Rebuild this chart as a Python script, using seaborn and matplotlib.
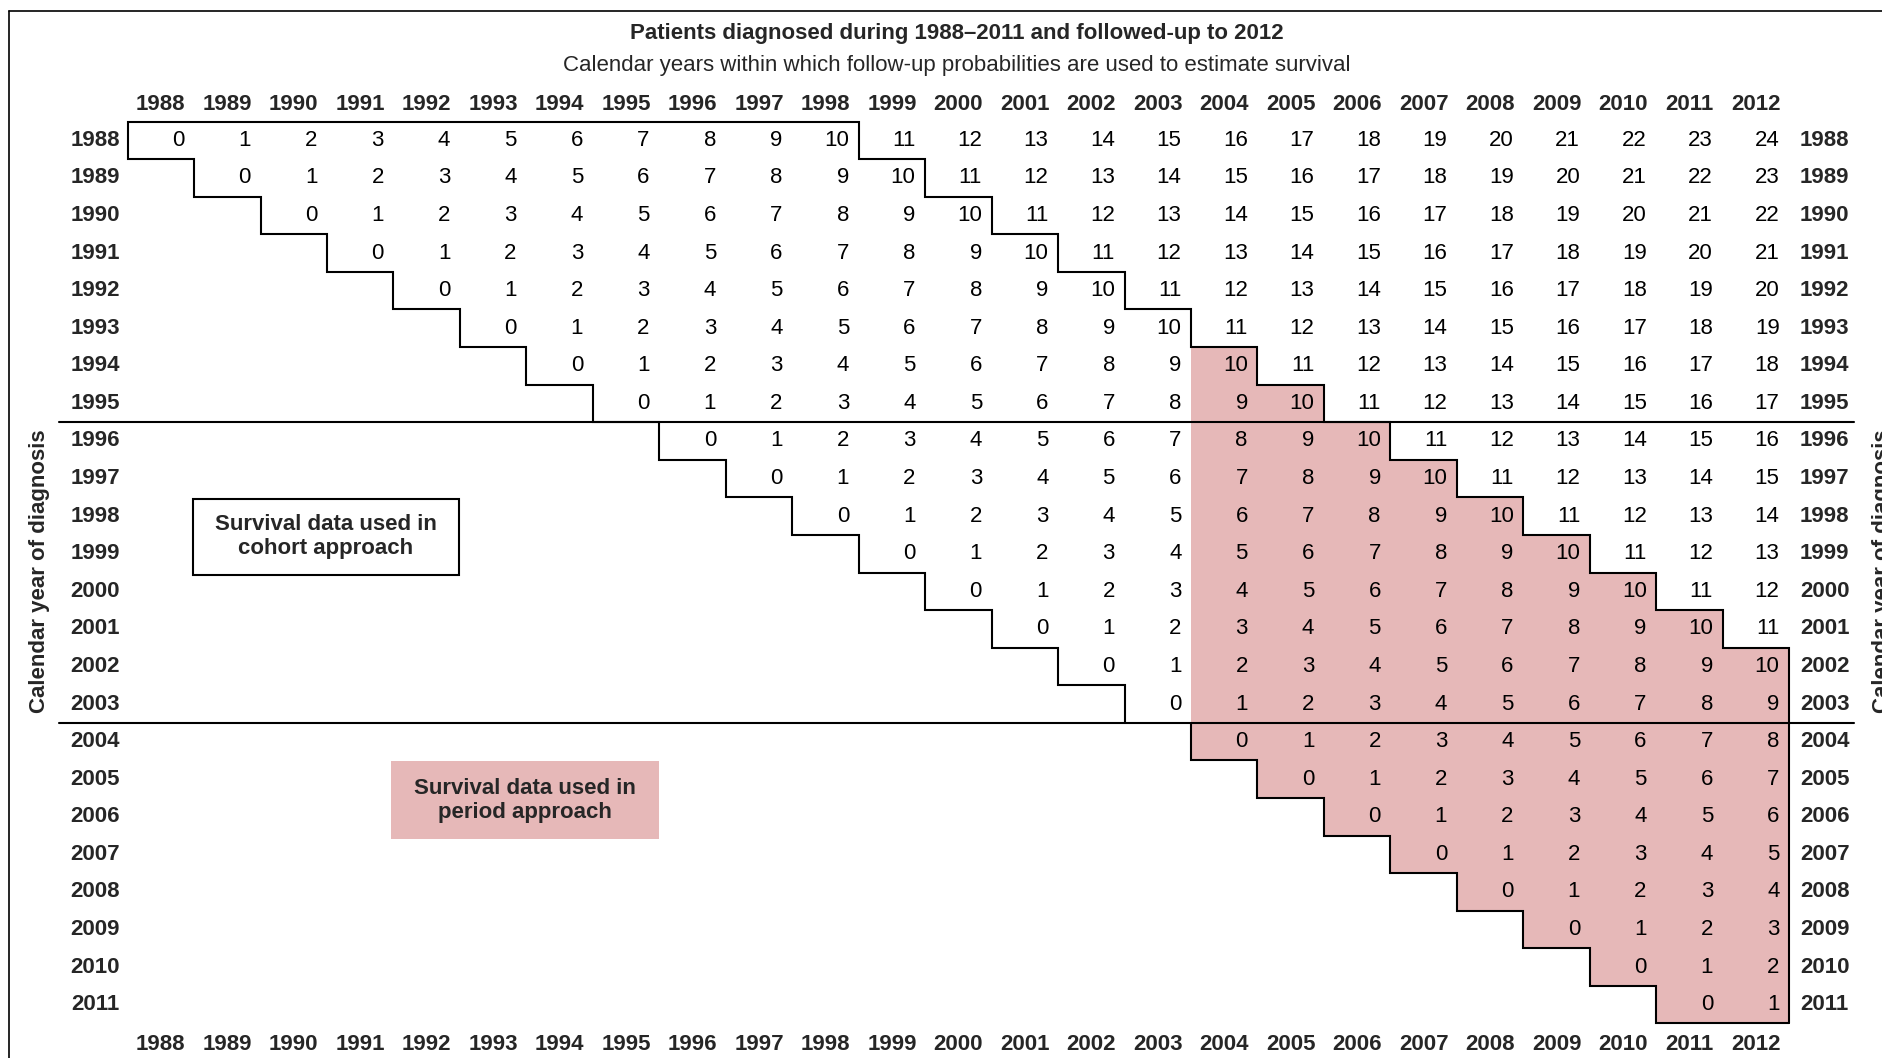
import numpy as np
import pandas as pd
import matplotlib
matplotlib.use("Agg")
import matplotlib.pyplot as plt
from matplotlib.colors import ListedColormap
from matplotlib.lines import Line2D
from matplotlib.patches import Rectangle
import seaborn as sns

# data
diag_years     = list(range(1988, 2012))   # rows: calendar year of diagnosis
followup_years = list(range(1988, 2013))   # columns: calendar year of follow-up
cohort_window  = 10                         # years of follow-up in the cohort approach
period_start   = 2004                       # first year of the period window
split_year     = 1996                       # extra separator line above this row

TITLE    = "Patients diagnosed during 1988\u20132011 and followed-up to 2012"
SUBTITLE = "Calendar years within which follow-up probabilities are used to estimate survival"
YLABEL   = "Calendar year of diagnosis"
PINK     = "#E6B8B8"
FS = 16

sns.set_theme(style="white")
plt.rcParams["font.family"] = ["Liberation Sans", "DejaVu Sans"]

n_rows, n_cols = len(diag_years), len(followup_years)
rows = np.array(diag_years)[:, None]
cols = np.array(followup_years)[None, :]

years_since = cols - rows
shade = ((cols >= period_start) & (years_since >= 0) & (years_since <= cohort_window)).astype(int)
mask = years_since < 0

fig = plt.figure(figsize=(18.82, 10.58), dpi=100)
W, H = 1882, 1058
x0, x1, y0, y1 = 127.6, 1789.2, 121.6, 1023.4   # grid box in pixels
ax = fig.add_axes([x0 / W, 1 - y1 / H, (x1 - x0) / W, (y1 - y0) / H])

sns.heatmap(
    pd.DataFrame(shade, index=diag_years, columns=followup_years),
    mask=mask, cmap=ListedColormap(["white", PINK]), vmin=0, vmax=1,
    annot=years_since, fmt="d", cbar=False, linewidths=0,
    annot_kws={"fontsize": FS, "color": "black"},
    xticklabels=followup_years, yticklabels=diag_years, ax=ax,
)

# numbers sit right-aligned in their cells
for t in ax.texts:
    x, y = t.get_position()
    t.set_position((x + 0.355, y))
    t.set_ha("right")

ax.tick_params(axis="x", bottom=True, labelbottom=True, top=False, labeltop=False,
               length=0, pad=7.6, labelsize=FS, rotation=0)
ax.tick_params(axis="y", left=True, labelleft=True, length=0, pad=5.5,
               labelsize=FS, rotation=0)
for lab in ax.get_xticklabels() + ax.get_yticklabels():
    lab.set_fontweight("bold")
ax.set_xlabel("")
ax.set_ylabel("")

# same year labels along the top
top = ax.secondary_xaxis("top")
top.set_xticks(np.arange(n_cols) + 0.5, [str(y) for y in followup_years])
top.tick_params(length=0, pad=4.5, labelsize=FS)
for lab in top.get_xticklabels():
    lab.set_fontweight("bold")
top.spines["top"].set_visible(False)

for i, yr in enumerate(diag_years):
    ax.text(n_cols + 0.16, i + 0.5, str(yr), ha="left", va="center",
            fontsize=FS, fontweight="bold")

# cohort outline: lower-left staircase, top edge, upper-right staircase
p0 = diag_years.index(period_start)
left = []
for i in range(p0):
    left += [(i, i), (i, i + 1)]
right = []
for i in range(n_rows):
    xr = min(i + cohort_window + 1, n_cols)
    right += [(xr, i), (xr, i + 1)]
cohort_pts = left[::-1] + right
ax.plot(*zip(*cohort_pts), color="black", lw=1.5, clip_on=False,
        solid_joinstyle="miter")

# period outline: lower-left staircase for rows from period_start
period_pts = []
for i in range(p0, n_rows):
    period_pts += [(i, i), (i, i + 1)]
period_pts.append((n_cols, n_rows))
ax.plot(*zip(*period_pts), color="black", lw=1.5, clip_on=False,
        solid_joinstyle="miter")

# separators
for yr in (split_year, period_start):
    yy = diag_years.index(yr)
    ax.plot([-1.03, 25.98], [yy, yy], color="black", lw=1.5, clip_on=False)

# legend boxes
ax.add_patch(Rectangle((0.985, 10.04), 4.0, 2.03, facecolor="white",
                       edgecolor="black", lw=1.5, clip_on=False, zorder=3))
ax.text(2.985, 11.05, "Survival data used in\ncohort approach", ha="center",
        va="center", fontsize=FS, fontweight="bold", linespacing=1.2, zorder=4)
ax.add_patch(Rectangle((3.96, 17.02), 4.04, 2.08, facecolor=PINK,
                       edgecolor="none", clip_on=False, zorder=3))
ax.text(5.98, 18.06, "Survival data used in\nperiod approach", ha="center",
        va="center", fontsize=FS, fontweight="bold", linespacing=1.2, zorder=4)

# titles and axis labels
fig.text(957 / W, 1 - 34 / H, TITLE, ha="center", va="center",
         fontsize=FS, fontweight="bold")
fig.text(957 / W, 1 - 66 / H, SUBTITLE, ha="center", va="center", fontsize=FS)
fig.text(40 / W, 1 - 571 / H, YLABEL, ha="center", va="center", rotation=90,
         fontsize=FS, fontweight="bold")
fig.text(1872 / W, 1 - 571 / H, YLABEL, ha="left", va="center", rotation=90,
         fontsize=FS, fontweight="bold")

# outer frame (top and left edges)
fig.add_artist(Line2D([9 / W, 1], [1 - 11 / H, 1 - 11 / H], color="black", lw=1.2))
fig.add_artist(Line2D([9 / W, 9 / W], [0, 1 - 11 / H], color="black", lw=1.2))

fig.savefig("out.png", dpi=100)
